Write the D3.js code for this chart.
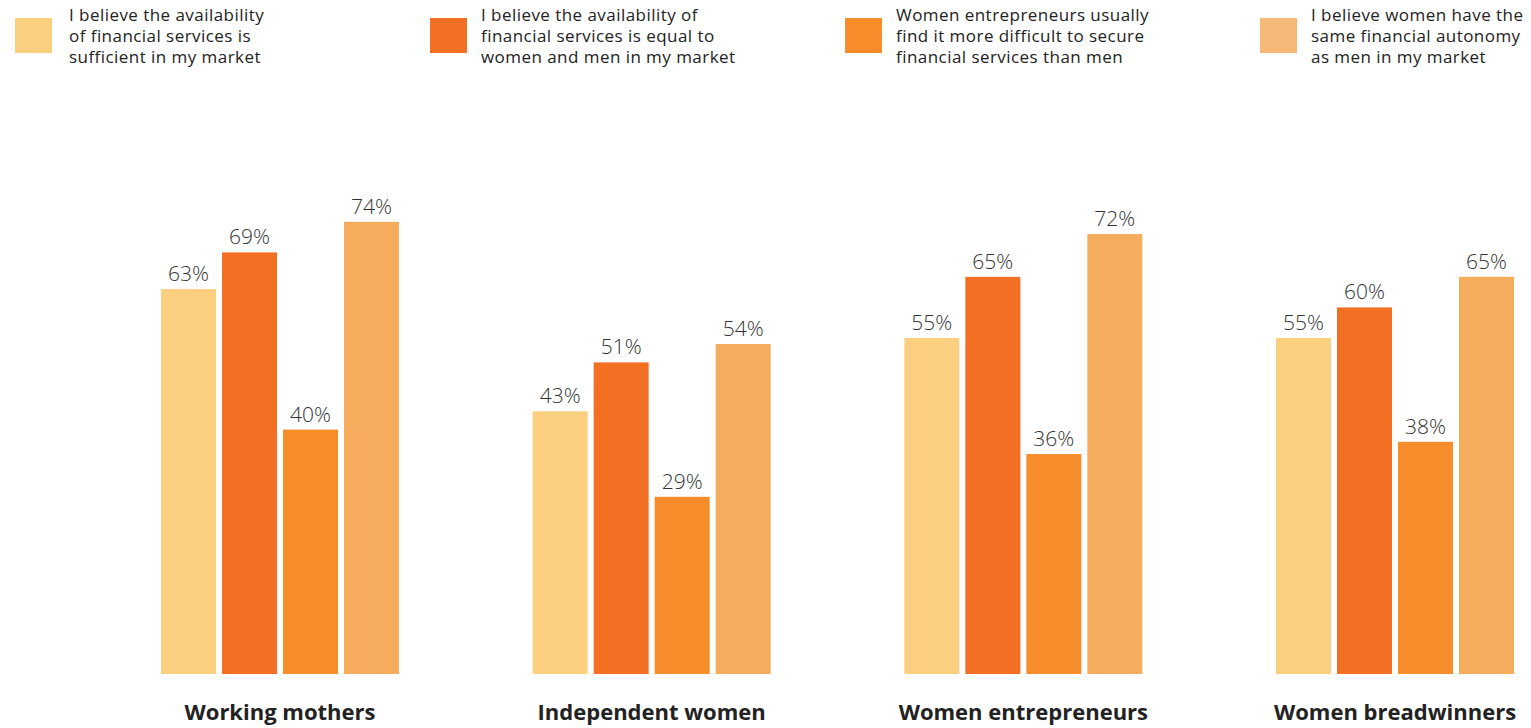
<!DOCTYPE html>
<html><head><meta charset="utf-8">
<script src="https://cdn.jsdelivr.net/npm/d3@7"></script>
<style>body{margin:0;background:#fff;} svg{display:block;}</style>
</head><body><svg id="c" width="1531" height="728"></svg>
<script>
const categories = ["Working mothers","Independent women","Women entrepreneurs","Women breadwinners"];
const seriesNames = [
  ["I believe the availability","of financial services is","sufficient in my market"],
  ["I believe the availability of","financial services is equal to","women and men in my market"],
  ["Women entrepreneurs usually","find it more difficult to secure","financial services than men"],
  ["I believe women have the","same financial autonomy","as men in my market"]
];
const sufficient = [63,43,55,55];
const equal = [69,51,65,60];
const difficult = [40,29,36,38];
const autonomy = [74,54,72,65];
const series = [sufficient, equal, difficult, autonomy];
const colors = ["#FAD080","#F36F24","#F68D2A","#F5AC5D"];
const legendColors = ["#FAD080","#F36F24","#F68D2A","#F6B977"];

const svg = d3.select("#c");
const font = "'Open Sans', 'Noto Sans', sans-serif";

const x0 = d3.scaleBand().domain(categories).range([161,1514]).paddingInner(0.3597).paddingOuter(0);
const x1 = d3.scaleBand().domain(d3.range(4)).range([0,x0.bandwidth()]).paddingInner(0.0984).paddingOuter(0);
const y = d3.scaleLinear().domain([0,100]).range([674,63]);

// legend
const lx = d3.scalePoint().domain(d3.range(4)).range([15,1260]);
const lg = svg.append("g").selectAll("g").data(seriesNames).join("g")
  .attr("transform",(d,i)=>`translate(${lx(i)},0)`);
lg.append("rect").attr("x",0).attr("y",18).attr("width",37).attr("height",35)
  .attr("fill",(d,i)=>legendColors[i]);
lg.each(function(lines,k){
  d3.select(this).append("text").attr("font-family",font).attr("font-size",17)
    .attr("letter-spacing",0.45).attr("fill","#222")
    .selectAll("tspan").data(lines).join("tspan")
    .attr("x",k===0?54:51).attr("y",(d,i)=>20.5+i*21.3).text(d=>d);
});

// bars
const groups = svg.append("g").selectAll("g").data(categories).join("g")
  .attr("transform",d=>`translate(${x0(d)},0)`);
groups.selectAll("rect").data((d,ci)=>series.map((s,si)=>({si,v:s[ci]}))).join("rect")
  .attr("x",d=>x1(d.si)).attr("width",x1.bandwidth())
  .attr("y",d=>y(d.v)).attr("height",d=>y(0)-y(d.v))
  .attr("fill",d=>colors[d.si]);
groups.selectAll("text.v").data((d,ci)=>series.map((s,si)=>({si,v:s[ci]}))).join("text")
  .attr("class","v")
  .attr("x",d=>x1(d.si)+x1.bandwidth()/2).attr("y",d=>y(d.v)-8)
  .attr("text-anchor","middle").attr("font-family",font).attr("font-size",21)
  .attr("font-weight",300).attr("fill","#333").text(d=>d.v+"%");

// category labels
svg.append("g").selectAll("text").data(categories).join("text")
  .attr("x",d=>x0(d)+x0.bandwidth()/2).attr("y",720)
  .attr("text-anchor","middle").attr("font-family",font).attr("font-size",22)
  .attr("font-weight",700).attr("fill","#222").text(d=>d);
</script></body></html>
